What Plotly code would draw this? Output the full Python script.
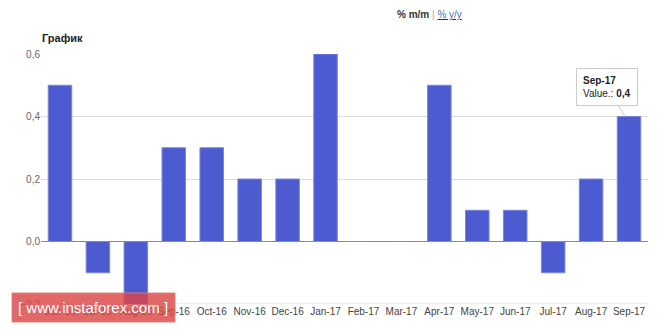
import plotly.graph_objects as go

categories = ["Jun-16", "Jul-16", "Aug-16", "Sep-16", "Oct-16", "Nov-16", "Dec-16", "Jan-17",
              "Feb-17", "Mar-17", "Apr-17", "May-17", "Jun-17", "Jul-17", "Aug-17", "Sep-17"]
values = [0.5, -0.1, -0.2, 0.3, 0.3, 0.2, 0.2, 0.6, 0.0, 0.0, 0.5, 0.1, 0.1, -0.1, 0.2, 0.4]
y_ticks = [-0.2, 0.0, 0.2, 0.4, 0.6]

fig = go.Figure()
fig.add_trace(go.Bar(
    x=categories, y=values,
    marker=dict(color="#4c5bcf", line=dict(color="#7a86dc", width=1)),
    width=0.62,
    hovertemplate="<b>%{x}</b><br>Value.: <b>%{y}</b><extra></extra>",
))

fig.update_layout(
    width=665, height=331,
    margin=dict(l=41, r=17, t=54, b=27),
    paper_bgcolor="white", plot_bgcolor="white",
    separators=", ",
    showlegend=False,
    font=dict(family="Liberation Sans, Arial, sans-serif", size=10, color="#444"),
    xaxis=dict(type="category", showgrid=False, showline=False, ticks="",
               tickfont=dict(size=10, color="#444"), range=[-0.5, 15.5]),
    yaxis=dict(range=[-0.2, 0.6], tickvals=y_ticks, tickformat=".1f",
               showgrid=True, gridcolor="#dcdcdc", gridwidth=1,
               zeroline=True, zerolinecolor="#888", zerolinewidth=1,
               tickfont=dict(size=10, color="#666"), ticks="", ticklen=0),
    bargap=0.38,
)

# bottom gridline at -0.2
fig.add_shape(type="line", xref="paper", yref="y", x0=0, x1=1, y0=-0.2, y1=-0.2,
              line=dict(color="#dcdcdc", width=1), layer="below")

fig.add_annotation(xref="paper", yref="paper", x=-0.002, y=1.064, xanchor="left", yanchor="middle",
                   text="<b>График</b>", showarrow=False, font=dict(size=11, color="#222"))
fig.add_annotation(xref="paper", yref="paper", x=0.64, y=1.16, xanchor="center", yanchor="middle",
                   text="<b>% m/m</b> <span style='color:#aaa'>|</span> <u><span style='color:#4c6fb5'>% y/y</span></u>",
                   showarrow=False, font=dict(size=10, color="#333"))

fig.add_annotation(x="Sep-17", y=0.4, ax=-18, ay=-30, showarrow=True, arrowhead=0, arrowwidth=1,
                   arrowcolor="#cccccc", text="<b>Sep-17</b><br>Value.: <b>0,4</b>", align="left",
                   bgcolor="white", bordercolor="#cccccc", borderwidth=1, borderpad=6,
                   font=dict(size=10, color="#222"), xshift=-4)

fig.add_shape(type="rect", xref="paper", yref="paper",
              x0=(12 - 41) / 607, x1=(175 - 41) / 607,
              y0=(331 - 27 - 322) / 250, y1=(331 - 27 - 293) / 250,
              fillcolor="rgba(220,70,70,0.82)", line=dict(color="rgba(230,120,120,0.9)", width=1), layer="above")
fig.add_annotation(xref="paper", yref="paper", x=(93 - 41) / 607, y=(331 - 27 - 307.5) / 250,
                   xanchor="center", yanchor="middle",
                   text="[ www.instaforex.com ]", showarrow=False,
                   font=dict(size=15, color="white", family="Liberation Sans, Arial, sans-serif"))

fig.write_html("out.html")
